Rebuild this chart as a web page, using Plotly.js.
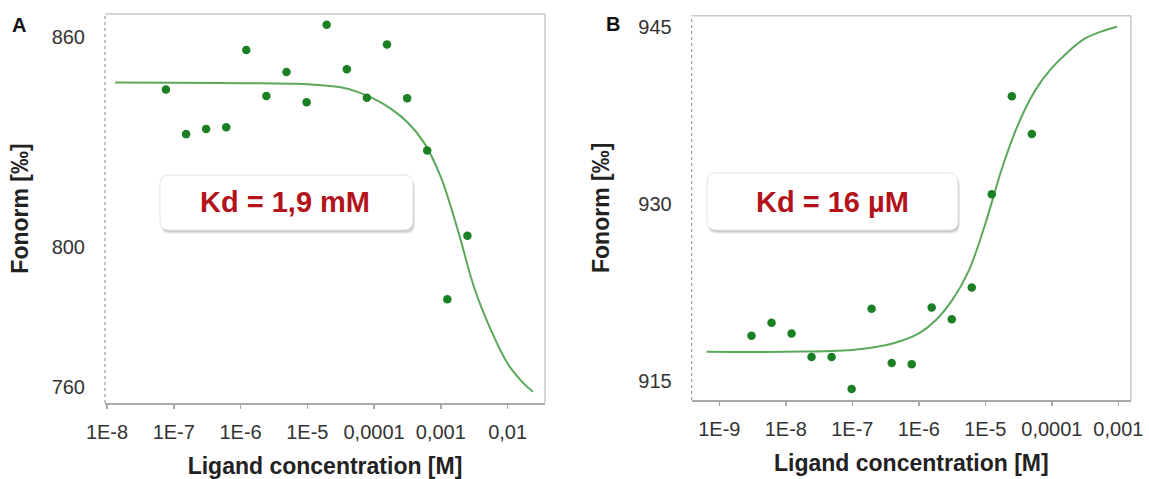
<!DOCTYPE html>
<html><head><meta charset="utf-8">
<script src="https://cdn.plot.ly/plotly-3.0.1.min.js"></script>
<style>html,body{margin:0;padding:0;background:#fff;} #chart{width:1149px;height:479px;}</style>
</head><body><div id="chart"></div>
<script>
// ---- Panel A data ----
const concA  = [7.63e-8, 1.53e-7, 3.05e-7, 6.1e-7, 1.22e-6, 2.44e-6, 4.88e-6, 9.77e-6, 1.95e-5, 3.91e-5, 7.81e-5, 1.56e-4, 3.13e-4, 6.25e-4, 1.25e-3, 2.5e-3];
const fnormA = [845.1, 832.3, 833.8, 834.3, 856.4, 843.2, 850.1, 841.4, 863.6, 850.9, 842.7, 858.0, 842.6, 827.6, 785.0, 803.2];
const fitConcA = [1.32e-8, 1e-7, 1e-6, 1e-5, 3.16e-5, 5.62e-5, 1e-4, 1.78e-4, 3.16e-4, 5.62e-4, 1e-3, 1.78e-3, 3.16e-3, 5.62e-3, 1e-2, 1.78e-2, 2.4e-2];
const fitA     = [847.1, 847.0, 846.9, 846.6, 845.7, 844.4, 842.4, 839.6, 835.7, 829.8, 820.0, 805.1, 788.3, 776.2, 766.6, 760.7, 758.5];
const yTicksA = [760, 800, 860];
const kdTextA = 'Kd = 1,9 mM';

// ---- Panel B data ----
const concB  = [3.05e-9, 6.1e-9, 1.22e-8, 2.44e-8, 4.88e-8, 9.77e-8, 1.95e-7, 3.91e-7, 7.81e-7, 1.56e-6, 3.13e-6, 6.25e-6, 1.25e-5, 2.5e-5, 5e-5];
const fnormB = [918.8, 919.9, 919.0, 917.0, 917.0, 914.3, 921.1, 916.5, 916.4, 921.2, 920.2, 922.9, 930.8, 939.1, 935.9];
const fitConcB = [6.46e-10, 1e-8, 1e-7, 3.16e-7, 5.62e-7, 1e-6, 1.78e-6, 3.16e-6, 5.62e-6, 1e-5, 1.78e-5, 3.16e-5, 5.62e-5, 1e-4, 1.78e-4, 3.16e-4, 5.62e-4, 9.55e-4];
const fitB     = [917.45, 917.45, 917.6, 918.0, 918.4, 919.0, 920.1, 921.8, 924.3, 928.3, 933.0, 936.8, 939.6, 941.5, 942.9, 944.0, 944.6, 945.0];
const yTicksB = [915, 930, 945];
const kdTextB = 'Kd = 16 µM';

// ---- tick labels ----
const xTickValsA = [1e-8, 1e-7, 1e-6, 1e-5, 1e-4, 1e-3, 1e-2];
const xTickTextA = ['1E-8', '1E-7', '1E-6', '1E-5', '0,0001', '0,001', '0,01'];
const xTickValsB = [1e-9, 1e-8, 1e-7, 1e-6, 1e-5, 1e-4, 1e-3];
const xTickTextB = ['1E-9', '1E-8', '1E-7', '1E-6', '1E-5', '0,0001', '0,001'];

const W = 1149, H = 479;
const FONT = 'Liberation Sans, Arial, sans-serif';
const px = v => v / W, py = v => 1 - v / H;

const domA = {x: [px(105), px(545)], y: [py(403), py(14)]};
const domB = {x: [px(691.7), px(1131)], y: [py(400), py(15.7)]};

const lineColor = '#5aa85a', dotColor = '#1b7f24';

const traces = [
  {x: fitConcA, y: fitA, xaxis: 'x', yaxis: 'y', mode: 'lines', line: {color: lineColor, width: 2, shape: 'spline', smoothing: 1}, hoverinfo: 'skip'},
  {x: concA, y: fnormA, xaxis: 'x', yaxis: 'y', mode: 'markers', marker: {color: dotColor, size: 8.5}},
  {x: fitConcB, y: fitB, xaxis: 'x2', yaxis: 'y2', mode: 'lines', line: {color: lineColor, width: 2, shape: 'spline', smoothing: 1}, hoverinfo: 'skip'},
  {x: concB, y: fnormB, xaxis: 'x2', yaxis: 'y2', mode: 'markers', marker: {color: dotColor, size: 8.5}}
];

function xAxis(dom, anchor, range, vals, text) {
  return {
    type: 'log', domain: dom, anchor: anchor, range: range,
    tickmode: 'array', tickvals: vals, ticktext: text,
    showline: true, linecolor: '#a9a9a9', linewidth: 1.5,
    ticks: 'outside', ticklen: 4, tickcolor: '#a9a9a9', tickwidth: 1.5,
    ticklabelstandoff: 6,
    tickfont: {family: FONT, size: 20, color: '#333'},
    showgrid: false, zeroline: false,
    title: {text: '<b>Ligand concentration [M]</b>', font: {family: FONT, size: 23, color: '#222'}, standoff: 16}
  };
}
function yAxis(dom, anchor, range, vals, standoff) {
  return {
    domain: dom, anchor: anchor, range: range,
    tickmode: 'array', tickvals: vals,
    showline: false, ticks: 'outside', ticklen: 15, tickcolor: 'rgba(0,0,0,0)',
    showgrid: false, zeroline: false,
    tickfont: {family: FONT, size: 20, color: '#333'},
    title: {text: '<b>Fonorm [‰]</b>', font: {family: FONT, size: 23, color: '#222'}, standoff: standoff}
  };
}

function rrect(x0, y0, x1, y1, r) {
  const X = v => px(v).toFixed(5), Y = v => py(v).toFixed(5);
  return `M ${X(x0 + r)} ${Y(y0)} L ${X(x1 - r)} ${Y(y0)} Q ${X(x1)} ${Y(y0)} ${X(x1)} ${Y(y0 + r)} ` +
         `L ${X(x1)} ${Y(y1 - r)} Q ${X(x1)} ${Y(y1)} ${X(x1 - r)} ${Y(y1)} L ${X(x0 + r)} ${Y(y1)} ` +
         `Q ${X(x0)} ${Y(y1)} ${X(x0)} ${Y(y1 - r)} L ${X(x0)} ${Y(y0 + r)} Q ${X(x0)} ${Y(y0)} ${X(x0 + r)} ${Y(y0)} Z`;
}
function box(x0, y0, x1, y1) {
  const s = [];
  [[4, 0.05], [3, 0.07], [2, 0.09]].forEach(([o, a]) => {
    s.push({type: 'path', xref: 'paper', yref: 'paper', path: rrect(x0 + 1, y0 + o, x1 + o * 0.5, y1 + o, 9),
            fillcolor: `rgba(0,0,0,${a})`, line: {width: 0}});
  });
  s.push({type: 'path', xref: 'paper', yref: 'paper', path: rrect(x0, y0, x1, y1, 9),
          fillcolor: '#ffffff', line: {color: '#e4e4e4', width: 1}});
  return s;
}
function frame(d) {
  return [
    {type: 'line', xref: 'paper', yref: 'paper', x0: d.x[0], x1: d.x[1], y0: d.y[1], y1: d.y[1], line: {color: '#c8c8c8', width: 1.5}},
    {type: 'line', xref: 'paper', yref: 'paper', x0: d.x[1], x1: d.x[1], y0: d.y[0], y1: d.y[1], line: {color: '#c8c8c8', width: 1.5}},
    {type: 'line', xref: 'paper', yref: 'paper', x0: d.x[0], x1: d.x[0], y0: d.y[0], y1: d.y[1], line: {color: '#9a9a9a', width: 1.2, dash: 'dot'}}
  ];
}

const layout = {
  width: W, height: H, margin: {l: 0, r: 0, t: 0, b: 0},
  paper_bgcolor: '#fff', plot_bgcolor: '#fff', showlegend: false,
  font: {family: FONT},
  xaxis: xAxis(domA.x, 'y', [-8.03, -1.44], xTickValsA, xTickTextA),
  yaxis: yAxis(domA.y, 'x', [755.3, 866.7], yTicksA, 16),
  xaxis2: xAxis(domB.x, 'y2', [-9.415, -2.81], xTickValsB, xTickTextB),
  yaxis2: yAxis(domB.y, 'x2', [913.36, 945.93], yTicksB, 22),
  shapes: [...frame(domA), ...frame(domB), ...box(160, 175, 413, 230), ...box(707, 173, 958, 230)],
  annotations: [
    {xref: 'paper', yref: 'paper', x: px(285), y: py(202), xanchor: 'center', yanchor: 'middle', text: '<b>' + kdTextA + '</b>', showarrow: false,
     font: {family: FONT, size: 29, color: '#b3141c'}},
    {xref: 'paper', yref: 'paper', x: px(832), y: py(202), xanchor: 'center', yanchor: 'middle', text: '<b>' + kdTextB + '</b>', showarrow: false,
     font: {family: FONT, size: 29, color: '#b3141c'}},
    {xref: 'paper', yref: 'paper', x: px(18.5), y: py(25), xanchor: 'center', yanchor: 'middle', text: '<b>A</b>', showarrow: false, font: {family: FONT, size: 20, color: '#111'}},
    {xref: 'paper', yref: 'paper', x: px(612.5), y: py(23.5), xanchor: 'center', yanchor: 'middle', text: '<b>B</b>', showarrow: false, font: {family: FONT, size: 20, color: '#111'}}
  ]
};

Plotly.newPlot('chart', traces, layout, {displayModeBar: false, staticPlot: true});
</script>
</body></html>
